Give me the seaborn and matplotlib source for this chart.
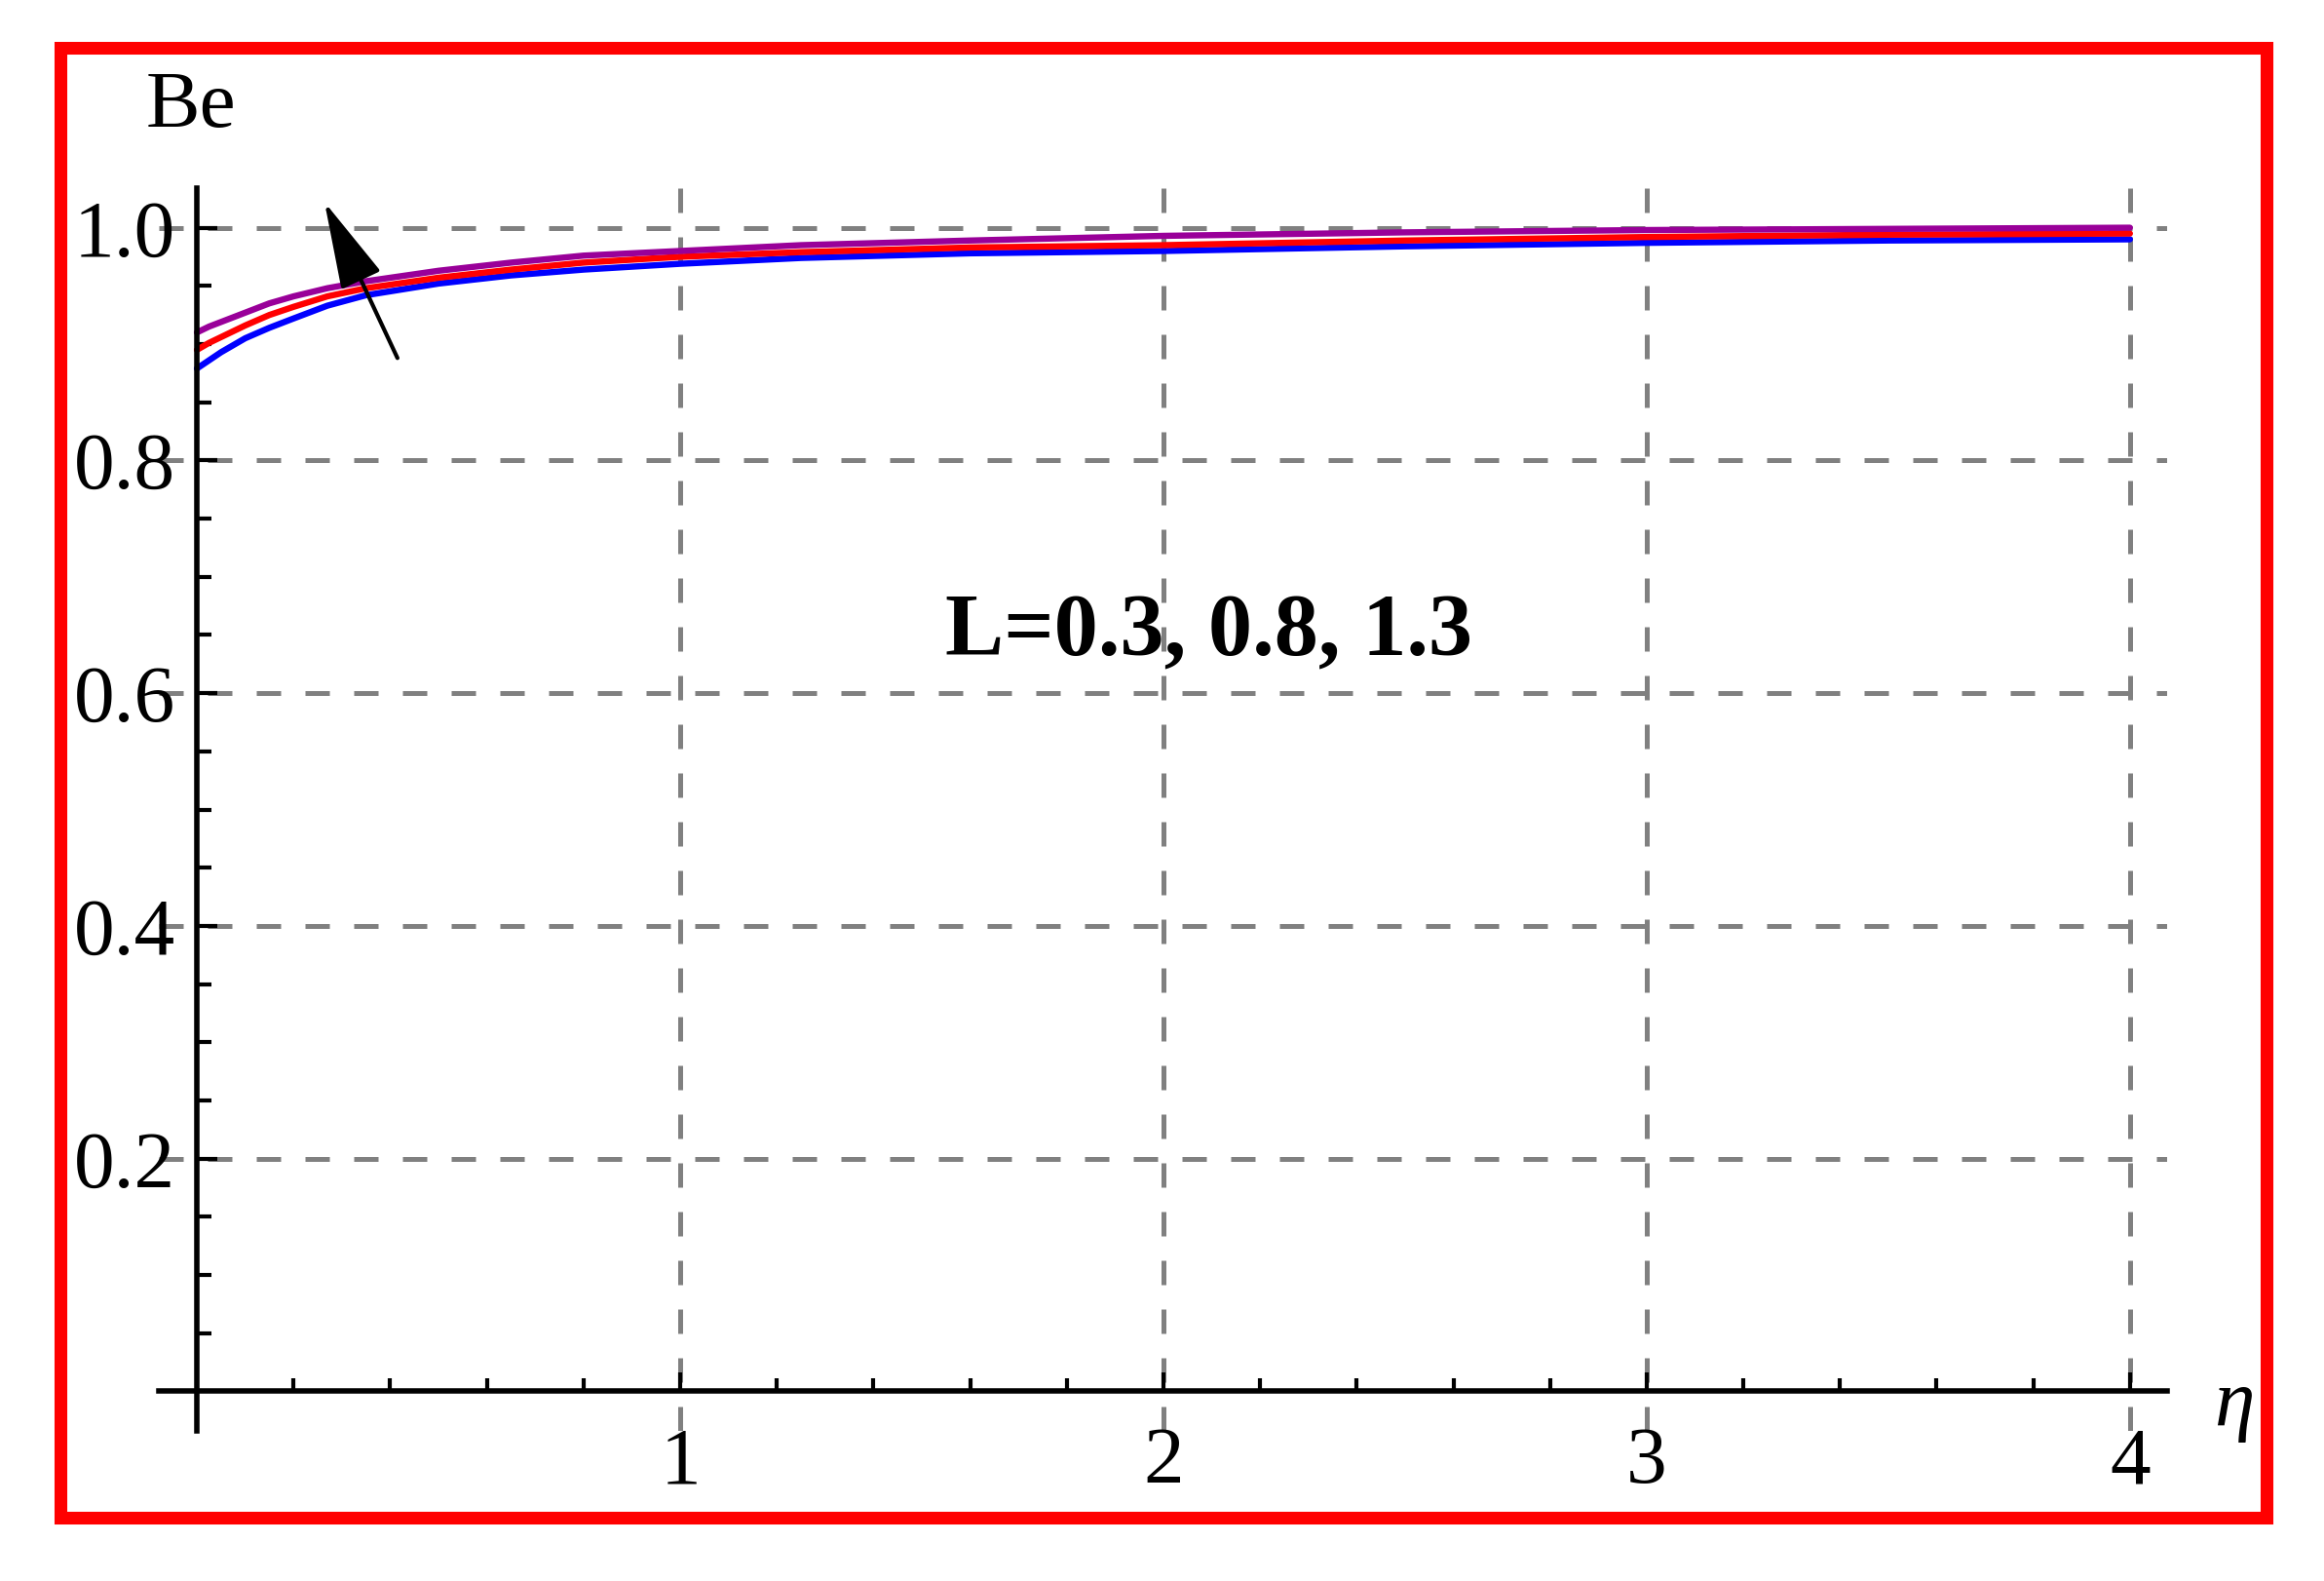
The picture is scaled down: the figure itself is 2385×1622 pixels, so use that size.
import matplotlib
matplotlib.use("Agg")
import matplotlib.pyplot as plt
import numpy as np
import pandas as pd
import seaborn as sns
from matplotlib.patches import Rectangle
from matplotlib.ticker import FixedLocator

# values
eta = [0.0, 0.025, 0.05, 0.1, 0.15, 0.2, 0.27, 0.35, 0.5, 0.65, 0.8, 1.0, 1.25, 1.6,
       2.0, 2.5, 3.0, 3.5, 4.0]
be_L03 = [0.879, 0.886, 0.893, 0.905, 0.914, 0.922, 0.933, 0.942, 0.952, 0.959, 0.964,
          0.969, 0.974, 0.978, 0.980, 0.984, 0.987, 0.989, 0.990]
be_L08 = [0.895, 0.901, 0.906, 0.916, 0.925, 0.932, 0.941, 0.948, 0.957, 0.964, 0.970,
          0.975, 0.979, 0.983, 0.985, 0.989, 0.992, 0.994, 0.995]
be_L13 = [0.910, 0.915, 0.919, 0.927, 0.935, 0.941, 0.948, 0.954, 0.963, 0.970, 0.976,
          0.980, 0.985, 0.989, 0.993, 0.996, 0.998, 0.999, 1.000]
L_values = ["0.3", "0.8", "1.3"]
line_colors = ["#0000ff", "#ff0000", "#990099"]

x_major = [1, 2, 3, 4]
y_major = [0.2, 0.4, 0.6, 0.8, 1.0]
y_tick_labels = ["0.2", "0.4", "0.6", "0.8", "1.0"]

df = pd.DataFrame({
    "eta": eta * 3,
    "Be": be_L03 + be_L08 + be_L13,
    "L": [L_values[0]] * len(eta) + [L_values[1]] * len(eta) + [L_values[2]] * len(eta),
})

sns.set_theme(style="white")
plt.rcParams["font.family"] = ["Liberation Serif", "DejaVu Serif"]
plt.rcParams["text.color"] = "black"

fig = plt.figure(figsize=(11.925, 8.11), dpi=200)
ax = fig.add_axes([0.0683, 0.0949, 0.8642, 0.7861])

sns.lineplot(data=df, x="eta", y="Be", hue="L", palette=line_colors,
             linewidth=2.3, legend=False, ax=ax, zorder=3)

ax.set_xlim(-0.079, 4.077)
ax.set_ylim(-0.034, 1.034)

# axes through the origin, Mathematica style
for side in ["top", "right"]:
    ax.spines[side].set_visible(False)
ax.spines["left"].set_position(("data", 0))
ax.spines["bottom"].set_position(("data", 0))
for side in ["left", "bottom"]:
    ax.spines[side].set_linewidth(2.0)
    ax.spines[side].set_color("black")
    ax.spines[side].set_zorder(4)

ax.xaxis.set_major_locator(FixedLocator(x_major))
ax.xaxis.set_minor_locator(FixedLocator([v for v in np.arange(0.2, 4.0, 0.2)
                                         if abs(v - round(v)) > 1e-6]))
ax.yaxis.set_major_locator(FixedLocator(y_major))
ax.yaxis.set_minor_locator(FixedLocator([v for v in np.arange(0.05, 1.0, 0.05)
                                         if abs(v * 5 - round(v * 5)) > 1e-6]))
ax.set_xticklabels([str(v) for v in x_major])
ax.set_yticklabels(y_tick_labels)

ax.tick_params(axis="x", which="major", direction="in", length=6.8, width=1.5,
               color="black", labelsize=30, pad=13, bottom=True)
ax.tick_params(axis="x", which="minor", direction="in", length=4.7, width=1.5,
               color="black", bottom=True)
ax.tick_params(axis="y", which="major", direction="in", length=7.5, width=1.5,
               color="black", labelsize=30, pad=8, left=True)
ax.tick_params(axis="y", which="minor", direction="in", length=5.4, width=1.5,
               color="black", left=True)
for lab in ax.get_xticklabels() + ax.get_yticklabels():
    lab.set_color("black")

ax.grid(True, which="major", color="#808080", linestyle=(0, (5, 5)), linewidth=1.8, zorder=1)
ax.set_axisbelow(True)

ax.set_xlabel("")
ax.set_ylabel("")
ax.text(-0.012, 1.103, "Be", fontsize=30, color="black", ha="center", va="center",
        clip_on=False)
ax.text(4.216, -0.012, "η", fontsize=30, color="black", style="italic",
        ha="center", va="center", clip_on=False)
ax.text(2.093, 0.651, "L=0.3, 0.8, 1.3", fontsize=32.5, color="black",
        fontweight="bold", ha="center", va="center")

ax.annotate("", xy=(0.264, 1.022), xytext=(0.415, 0.888),
            arrowprops=dict(arrowstyle="-|>,head_length=1.4,head_width=0.35",
                            color="black", lw=1.5, mutation_scale=20,
                            shrinkA=0, shrinkB=0),
            zorder=5, annotation_clip=False)

# red frame around the whole picture
fig.patches.append(Rectangle((61.5 / 2385, 1 - 1556.5 / 1622), (2325.5 - 61.5) / 2385,
                             (1556.5 - 48.5) / 1622, transform=fig.transFigure,
                             fill=False, edgecolor="#ff0000", linewidth=4.7))

fig.savefig("out.png", dpi=200, facecolor="white")
